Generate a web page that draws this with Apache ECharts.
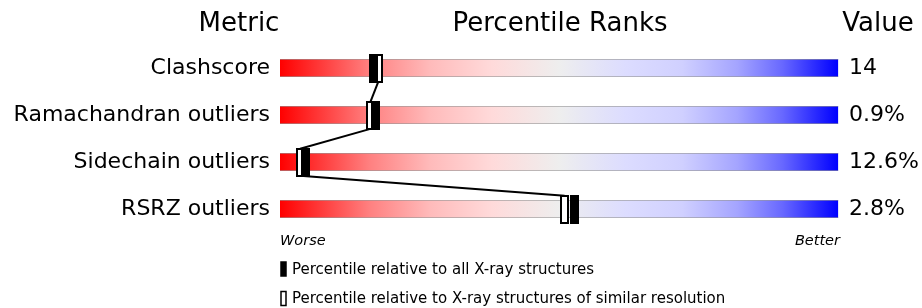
<!DOCTYPE html>
<html>
<head>
<meta charset="utf-8">
<script src="https://cdn.jsdelivr.net/npm/echarts@6/dist/echarts.min.js"></script>
<style>
html,body{margin:0;padding:0;background:#fff;}
#chart{width:922px;height:308px;}
</style>
</head>
<body>
<div id="chart"></div>
<script>
// ---- data ----
var metrics = ['Clashscore', 'Ramachandran outliers', 'Sidechain outliers', 'RSRZ outliers'];
var valueLabels = ['14', '0.9%', '12.6%', '2.8%'];
var pctAll = [16.7, 17.2, 4.5, 52.8];
var pctSimilar = [17.6, 16.2, 3.6, 51.0];
var headers = ['Metric', 'Percentile Ranks', 'Value'];
var scaleEnds = ['Worse', 'Better'];
var legendTexts = ['Percentile relative to all X-ray structures',
                   'Percentile relative to X-ray structures of similar resolution'];

var FONT = 'DejaVu Sans';
var MH = 27, MW = 7;

var chart = echarts.init(document.getElementById('chart'), null, {renderer: 'canvas'});

var grad = {
  type: 'linear', x: 0, y: 0, x2: 1, y2: 0,
  colorStops: [
    {offset: 0, color: '#ff0000'},
    {offset: 0.08, color: '#ff4040'},
    {offset: 0.16, color: '#ff8080'},
    {offset: 0.27, color: '#ffbbbb'},
    {offset: 0.38, color: '#ffdada'},
    {offset: 0.5, color: '#eeeeee'},
    {offset: 0.62, color: '#dcdcff'},
    {offset: 0.72, color: '#d0d0ff'},
    {offset: 0.82, color: '#a4a4ff'},
    {offset: 0.9, color: '#6868ff'},
    {offset: 1, color: '#0000ff'}
  ]
};

var barData = metrics.map(function (m, i) { return [0, i, 100]; });
var linkData = [];
for (var i = 0; i < pctSimilar.length - 1; i++) {
  linkData.push([pctSimilar[i], i, pctSimilar[i + 1], i + 1]);
}

function markerItem(fill) {
  return function (params, api) {
    var c = api.coord([api.value(0), api.value(1)]);
    return {
      type: 'rect',
      shape: {x: Math.round(c[0] - MW / 2), y: Math.round(c[1] - MH / 2), width: MW, height: MH},
      style: {fill: fill, stroke: '#000', lineWidth: 2}
    };
  };
}

var option = {
  animation: false,
  grid: {left: 280, width: 561, top: 45, height: 187.6},
  xAxis: {type: 'value', min: 0, max: 100, show: false},
  yAxis: [
    {
      type: 'category', data: metrics, inverse: true,
      axisLine: {show: false}, axisTick: {show: false}, splitLine: {show: false},
      axisLabel: {fontFamily: FONT, fontSize: 22, color: '#000', margin: 10, padding: [3, 0, 0, 0]}
    },
    {
      type: 'category', data: valueLabels, inverse: true, position: 'right',
      axisLabel: {fontFamily: FONT, fontSize: 22, color: '#000', margin: 11, align: 'left', padding: [3, 0, 0, 0]},
      axisLine: {show: false}, axisTick: {show: false}, splitLine: {show: false}
    }
  ],
  series: [
    {
      type: 'custom', name: 'bars', data: barData, encode: {x: [0, 2], y: 1},
      renderItem: function (params, api) {
        var a = api.coord([api.value(0), api.value(1)]);
        var b = api.coord([api.value(2), api.value(1)]);
        var top = Math.round(a[1] - 9), h = 18;
        return {
          type: 'group',
          children: [
            {type: 'rect', shape: {x: a[0], y: top, width: b[0] - a[0], height: h}, style: {fill: grad}},
            {type: 'line', shape: {x1: a[0], y1: top + 0.5, x2: b[0], y2: top + 0.5}, style: {stroke: 'rgba(150,150,150,0.6)', lineWidth: 1}},
            {type: 'line', shape: {x1: a[0], y1: top + h - 0.5, x2: b[0], y2: top + h - 0.5}, style: {stroke: 'rgba(150,150,150,0.6)', lineWidth: 1}}
          ]
        };
      }
    },
    {
      type: 'custom', name: 'links', data: linkData, encode: {x: [0, 2], y: [1, 3]},
      renderItem: function (params, api) {
        var p1 = api.coord([api.value(0), api.value(1)]);
        var p2 = api.coord([api.value(2), api.value(3)]);
        return {
          type: 'line',
          shape: {x1: p1[0], y1: p1[1] + MH / 2, x2: p2[0], y2: p2[1] - MH / 2},
          style: {stroke: '#000', lineWidth: 2}
        };
      }
    },
    {
      type: 'custom', name: 'similar', data: pctSimilar.map(function (v, i) { return [v, i]; }),
      encode: {x: 0, y: 1}, renderItem: markerItem('#fff')
    },
    {
      type: 'custom', name: 'all', data: pctAll.map(function (v, i) { return [v, i]; }),
      encode: {x: 0, y: 1}, renderItem: markerItem('#000')
    }
  ],
  graphic: [
    {type: 'text', x: 239, y: 24, style: {text: headers[0], font: '26px "' + FONT + '"', fill: '#000', textAlign: 'center', textVerticalAlign: 'middle'}},
    {type: 'text', x: 560, y: 24, style: {text: headers[1], font: '26px "' + FONT + '"', fill: '#000', textAlign: 'center', textVerticalAlign: 'middle'}},
    {type: 'text', x: 878, y: 24, style: {text: headers[2], font: '26px "' + FONT + '"', fill: '#000', textAlign: 'center', textVerticalAlign: 'middle'}},
    {type: 'text', x: 280, y: 241, style: {text: scaleEnds[0], font: 'italic 14.5px "' + FONT + '"', fill: '#000', textAlign: 'left', textVerticalAlign: 'middle'}},
    {type: 'text', x: 840, y: 241, style: {text: scaleEnds[1], font: 'italic 14.5px "' + FONT + '"', fill: '#000', textAlign: 'right', textVerticalAlign: 'middle'}},
    {type: 'rect', shape: {x: 281, y: 262, width: 5, height: 14}, style: {fill: '#000', stroke: '#000', lineWidth: 1.5}},
    {type: 'text', x: 292, y: 270, style: {text: legendTexts[0], font: '15px "' + FONT + '"', fill: '#000', textAlign: 'left', textVerticalAlign: 'middle'}},
    {type: 'rect', shape: {x: 281, y: 291.5, width: 5, height: 14}, style: {fill: '#fff', stroke: '#000', lineWidth: 1.5}},
    {type: 'text', x: 292, y: 299, style: {text: legendTexts[1], font: '15px "' + FONT + '"', fill: '#000', textAlign: 'left', textVerticalAlign: 'middle'}}
  ]
};
chart.setOption(option);
</script>
</body>
</html>
